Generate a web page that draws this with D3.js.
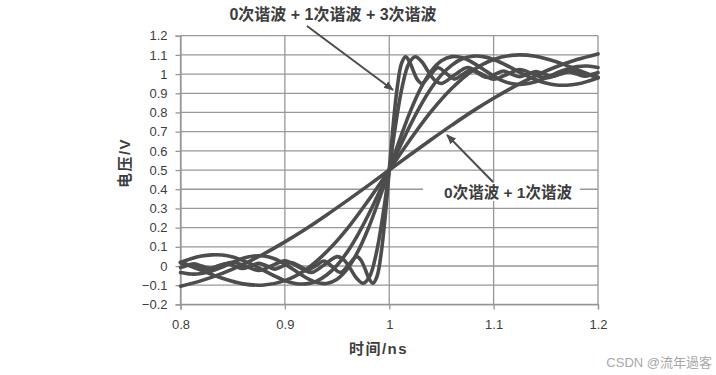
<!DOCTYPE html>
<html>
<head>
<meta charset="utf-8">
<script src="https://cdn.jsdelivr.net/npm/d3@7"></script>
<style>
  html, body { margin: 0; padding: 0; background: #fff; }
  svg text { font-family: "Liberation Sans", "Noto Sans CJK SC", sans-serif; }
</style>
</head>
<body>
<svg id="chart" width="716" height="375"></svg>
<script>
// axis ticks
const xTicks = [0.8, 0.9, 1.0, 1.1, 1.2];
const xLabels = ['0.8', '0.9', '1', '1.1', '1.2'];
const xGrid = [0.8, 0.9, 1.0, 1.1, 1.2];
const yTicks = [-0.2, -0.1, 0, 0.1, 0.2, 0.3, 0.4, 0.5, 0.6, 0.7, 0.8, 0.9, 1.0, 1.1, 1.2];
const yLabels = ['−0.2', '−0.1', '0', '0.1', '0.2', '0.3', '0.4', '0.5', '0.6', '0.7', '0.8', '0.9', '1', '1.1', '1.2'];

// time samples (ns)
const tCoarse = [0.80, 0.82, 0.84, 0.86, 0.88, 0.90, 0.92, 0.94, 0.96, 0.98, 1.00,
                 1.02, 1.04, 1.06, 1.08, 1.10, 1.12, 1.14, 1.16, 1.18, 1.20];
const tFine = [0.80, 0.81, 0.82, 0.83, 0.84, 0.85, 0.86, 0.87, 0.88, 0.89, 0.90,
               0.91, 0.92, 0.93, 0.94, 0.95, 0.96, 0.97, 0.98, 0.99, 1.00,
               1.01, 1.02, 1.03, 1.04, 1.05, 1.06, 1.07, 1.08, 1.09, 1.10,
               1.11, 1.12, 1.13, 1.14, 1.15, 1.16, 1.17, 1.18, 1.19, 1.20];
const tH19 = [0.8, 0.8125, 0.825, 0.8375, 0.85, 0.8625, 0.875, 0.8875, 0.9, 0.9125, 0.925, 0.9375,
              0.95, 0.95625, 0.9625, 0.96875, 0.975, 0.98125, 0.9875, 0.99375, 1.0,
              1.00625, 1.0125, 1.01875, 1.025, 1.03125, 1.0375, 1.04375, 1.05, 1.0625, 1.075,
              1.0875, 1.1, 1.1125, 1.125, 1.1375, 1.15, 1.1625, 1.175, 1.1875, 1.2];
const tH31 = [0.8, 0.8047, 0.8125, 0.8203, 0.8281, 0.8359, 0.8438, 0.8516, 0.8594, 0.8672, 0.875,
              0.8828, 0.8906, 0.8984, 0.9063, 0.9141, 0.9219, 0.9297, 0.9375, 0.9453, 0.9531,
              0.9609, 0.9688, 0.9727, 0.9766, 0.9805, 0.9844, 0.9883, 0.9922, 0.9961, 1.0,
              1.0039, 1.0078, 1.0117, 1.0156, 1.0195, 1.0234, 1.0273, 1.0313, 1.0391, 1.0469,
              1.0547, 1.0625, 1.0703, 1.0781, 1.0859, 1.0938, 1.1016, 1.1094, 1.1172, 1.125,
              1.1328, 1.1406, 1.1484, 1.1563, 1.1641, 1.1719, 1.1797, 1.1875, 1.1953, 1.2];

// voltage (V) for each harmonic sum
const vH1 = [-0.105, -0.076, -0.038, 0.009, 0.064, 0.126, 0.193, 0.266, 0.342, 0.420, 0.500,
             0.580, 0.658, 0.734, 0.807, 0.874, 0.936, 0.991, 1.038, 1.076, 1.105];
const vH3 = [0.019, -0.023, -0.064, -0.093, -0.099, -0.076, -0.019, 0.074, 0.196, 0.342, 0.500,
             0.658, 0.804, 0.926, 1.019, 1.076, 1.099, 1.093, 1.064, 1.023, 0.981];
const vH5 = [0.019, 0.038, 0.052, 0.058, 0.057, 0.047, 0.028, 0.004, -0.024, -0.052, -0.076,
             -0.091, -0.093, -0.080, -0.047, 0.004, 0.075, 0.164, 0.267, 0.381, 0.500,
             0.619, 0.733, 0.836, 0.925, 0.996, 1.047, 1.080, 1.093, 1.091, 1.076,
             1.052, 1.024, 0.996, 0.972, 0.953, 0.943, 0.942, 0.948, 0.962, 0.981];
const vH7 = [-0.034, -0.042, -0.039, -0.026, -0.005, 0.019, 0.040, 0.052, 0.052, 0.038, 0.010,
             -0.025, -0.060, -0.085, -0.091, -0.069, -0.014, 0.076, 0.197, 0.342, 0.500,
             0.658, 0.803, 0.924, 1.014, 1.069, 1.091, 1.085, 1.060, 1.025, 0.990,
             0.962, 0.948, 0.948, 0.960, 0.981, 1.005, 1.026, 1.039, 1.042, 1.034];
const vH19 = [0.017, -0.001, -0.018, 0.001, 0.020, -0.001, -0.023, 0.002, 0.027, -0.003, -0.034, 0.005,
              0.049, 0.033, -0.012, -0.064, -0.090, -0.054, 0.064, 0.258, 0.500,
              0.742, 0.936, 1.054, 1.090, 1.064, 1.012, 0.967, 0.951, 0.995, 1.034,
              1.003, 0.973, 0.998, 1.023, 1.001, 0.980, 0.999, 1.018, 1.001, 0.983];
const vH31 = [-0.008, 0.000, 0.011, 0.000, -0.011, 0.000, 0.012, 0.000, -0.013, 0.000, 0.014,
              0.000, -0.016, 0.001, 0.018, -0.001, -0.021, 0.002, 0.026, -0.003, -0.033,
              0.005, 0.049, 0.032, -0.012, -0.064, -0.090, -0.054, 0.064, 0.258, 0.500,
              0.742, 0.936, 1.054, 1.090, 1.064, 1.012, 0.968, 0.951, 0.995, 1.033,
              1.003, 0.974, 0.998, 1.021, 1.001, 0.982, 0.999, 1.016, 1.000, 0.986,
              1.000, 1.013, 1.000, 0.988, 1.000, 1.011, 1.000, 0.989, 1.000, 1.008];

const series = [
  { t: tCoarse, v: vH1 },
  { t: tCoarse, v: vH3 },
  { t: tFine, v: vH5 },
  { t: tFine, v: vH7 },
  { t: tH19, v: vH19 },
  { t: tH31, v: vH31 }
];

const LINE_COLOR = '#4d4d4d';
const GRID_COLOR = '#979797';
const TEXT_COLOR = '#3d3d3d';

const svg = d3.select('#chart');

// plot area
const plotLeft = 180.5, plotRight = 598, plotTop = 35.7, plotBottom = 304.4;

const x = d3.scaleLinear().domain([0.8, 1.2]).range([plotLeft, plotRight]);
const y = d3.scaleLinear().domain([-0.2, 1.2]).range([plotBottom, plotTop]);

// grid
svg.append('g')
  .selectAll('line')
  .data(yTicks)
  .enter()
  .append('line')
  .attr('x1', plotLeft).attr('x2', plotRight)
  .attr('y1', (d) => y(d)).attr('y2', (d) => y(d))
  .attr('stroke', GRID_COLOR)
  .attr('stroke-width', 1.3);

svg.append('g')
  .selectAll('line')
  .data(xGrid)
  .enter()
  .append('line')
  .attr('x1', (d) => x(d)).attr('x2', (d) => x(d))
  .attr('y1', plotTop).attr('y2', plotBottom)
  .attr('stroke', GRID_COLOR)
  .attr('stroke-width', 1.3);

// axes
const yAxis = svg.append('g')
  .attr('transform', `translate(${plotLeft},0)`)
  .call(d3.axisLeft(y).tickValues(yTicks).tickSize(5).tickPadding(8)
    .tickFormat((d, i) => yLabels[i]));

const xAxis = svg.append('g')
  .attr('transform', `translate(0,${plotBottom})`)
  .call(d3.axisBottom(x).tickValues(xTicks).tickSize(5).tickPadding(10)
    .tickFormat((d, i) => xLabels[i]));

[yAxis, xAxis].forEach((a) => {
  a.select('.domain').attr('stroke', GRID_COLOR).attr('stroke-width', 1.3);
  a.selectAll('.tick line').attr('stroke', GRID_COLOR).attr('stroke-width', 1.3);
  a.selectAll('.tick text')
    .attr('fill', TEXT_COLOR)
    .style('font-size', '13px')
    .style('font-family', '"Liberation Sans", sans-serif');
});

// harmonic curves
const line = d3.line()
  .x((d) => x(d[0]))
  .y((d) => y(d[1]))
  .curve(d3.curveCatmullRom.alpha(0.5));

svg.append('g')
  .selectAll('path')
  .data(series)
  .enter()
  .append('path')
  .attr('d', (s) => line(s.t.map((t, i) => [t, s.v[i]])))
  .attr('fill', 'none')
  .attr('stroke', LINE_COLOR)
  .attr('stroke-width', 3.6)
  .attr('stroke-linejoin', 'round')
  .attr('stroke-linecap', 'round');

// arrow head
svg.append('defs').append('marker')
  .attr('id', 'arrow')
  .attr('viewBox', '0 0 10 10')
  .attr('refX', 9).attr('refY', 5)
  .attr('markerWidth', 10).attr('markerHeight', 10)
  .attr('markerUnits', 'userSpaceOnUse')
  .attr('orient', 'auto')
  .append('path')
  .attr('d', 'M0,1 L10,5 L0,9 Z')
  .attr('fill', LINE_COLOR);

// annotation: 0 + 1 + 3
svg.append('text')
  .attr('x', 333).attr('y', 20)
  .attr('text-anchor', 'middle')
  .attr('fill', TEXT_COLOR)
  .style('font-size', '16px')
  .style('font-weight', 'bold')
  .text('0次谐波 + 1次谐波 + 3次谐波');

svg.append('line')
  .attr('x1', 307).attr('y1', 26)
  .attr('x2', 393).attr('y2', 90)
  .attr('stroke', LINE_COLOR)
  .attr('stroke-width', 2)
  .attr('marker-end', 'url(#arrow)');

// annotation: 0 + 1
svg.append('rect')
  .attr('x', 423).attr('y', 183)
  .attr('width', 157).attr('height', 18)
  .attr('fill', '#fff');

svg.append('text')
  .attr('x', 508).attr('y', 197.5)
  .attr('text-anchor', 'middle')
  .attr('fill', TEXT_COLOR)
  .style('font-size', '15.5px')
  .style('font-weight', 'bold')
  .text('0次谐波 + 1次谐波');

svg.append('line')
  .attr('x1', 493).attr('y1', 182)
  .attr('x2', 447).attr('y2', 135)
  .attr('stroke', LINE_COLOR)
  .attr('stroke-width', 2)
  .attr('marker-end', 'url(#arrow)');

// axis titles
svg.append('text')
  .attr('x', 378.5).attr('y', 354)
  .attr('text-anchor', 'middle')
  .attr('fill', TEXT_COLOR)
  .style('font-size', '15px')
  .style('font-weight', 'bold')
  .style('letter-spacing', '1.5px')
  .text('时间/ns');

svg.append('text')
  .attr('transform', 'translate(130,163) rotate(-90)')
  .attr('text-anchor', 'middle')
  .attr('fill', TEXT_COLOR)
  .style('font-size', '15px')
  .style('font-weight', 'bold')
  .style('letter-spacing', '1.5px')
  .text('电压/V');

// watermark
svg.append('text')
  .attr('x', 712).attr('y', 367)
  .attr('text-anchor', 'end')
  .attr('fill', '#a8a8a8')
  .style('font-size', '13px')
  .text('CSDN @流年過客');
</script>
</body>
</html>
